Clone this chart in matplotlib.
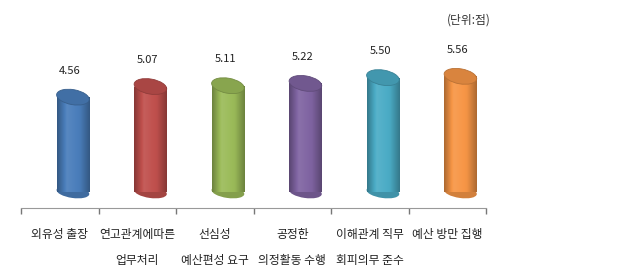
import numpy as np
import matplotlib
matplotlib.use("Agg")
import matplotlib.pyplot as plt
import matplotlib.transforms as mtransforms
from matplotlib.patches import Ellipse
from matplotlib.colors import to_rgb

plt.rcParams['font.family'] = ['Noto Sans CJK KR', 'DejaVu Sans']

categories = ['외유성 출장', '연고관계에따른\n업무처리', '선심성\n예산편성 요구',
              '공정한\n의정활동 수행', '이해관계 직무\n회피의무 준수', '예산 방만 집행']
scores = [4.56, 5.07, 5.11, 5.22, 5.50, 5.56]
colors = ['#4a7ebb', '#c0504d', '#9bbb59', '#8064a2', '#4bacc6', '#f79646']

fig = plt.figure(figsize=(6.3, 2.79), dpi=100)
ax = fig.add_axes([21 / 630, 1 - 208 / 279, 465 / 630, 198 / 279])
ax.set_xlim(-0.5, len(scores) - 0.5)
ax.set_ylim(-0.77, 8.75)

bar_w = 0.42
x = np.arange(len(scores))
xb = x + 0.17  # cylinders sit a little right of the category centre


def shade(c, f):
    r = np.array(to_rgb(c))
    if f >= 0:
        return r + (1 - r) * f
    return r * (1 + f)


# horizontal gradient across the cylinder body
t = np.linspace(0, 1, 64)
prof = np.interp(t, [0, 0.3, 0.7, 1], [-0.3, 0.08, -0.02, -0.3])

bars = ax.bar(xb, scores, width=bar_w, color='none', edgecolor='none', zorder=2)
for xi, v, c, b in zip(xb, scores, colors, bars):
    grad = np.array([[shade(c, f) for f in prof]])
    im = ax.imshow(grad, extent=[xi - bar_w / 2, xi + bar_w / 2, 0, v],
                   aspect='auto', zorder=2, interpolation='bilinear')
    im.set_clip_path(b)
    # bottom cap
    tr = fig.dpi_scale_trans + mtransforms.ScaledTranslation(xi, 0, ax.transData)
    ax.add_patch(Ellipse((0, 0), 0.33, 0.12, angle=-8, transform=tr,
                         facecolor=shade(c, -0.15), edgecolor='none', zorder=1.9))
    # top cap
    tr = fig.dpi_scale_trans + mtransforms.ScaledTranslation(xi, v, ax.transData)
    ax.add_patch(Ellipse((0, 0), 0.33, 0.15, angle=-10, transform=tr,
                         facecolor=shade(c, -0.12), edgecolor=shade(c, -0.25),
                         linewidth=0.6, zorder=3))
    ax.annotate(f'{v:.2f}', (xi, v), xytext=(-2, 19), textcoords='offset points',
                ha='center', va='center', fontsize=8, color='#222222')

for s in ['top', 'right', 'left']:
    ax.spines[s].set_visible(False)
ax.spines['bottom'].set_color('#999999')
ax.spines['bottom'].set_linestyle((0, (1, 1)))
ax.spines['bottom'].set_linewidth(0.8)
ax.set_yticks([])
ax.set_xticks(np.arange(-0.5, len(scores)))
ax.set_xticklabels([])
ax.tick_params(axis='x', length=4, width=1, color='#777777', direction='out')

for xi, lab in zip(x, categories):
    ax.text(xi, -0.77 - 20 / 20.8, lab, ha='center', va='top',
            fontsize=8.5, linespacing=2.35, color='#222222')

fig.text(469 / 630, 1 - 20 / 279, '(단위:점)', ha='center', va='center',
         fontsize=8.5, color='#333333')

fig.savefig('out.png', dpi=100)
